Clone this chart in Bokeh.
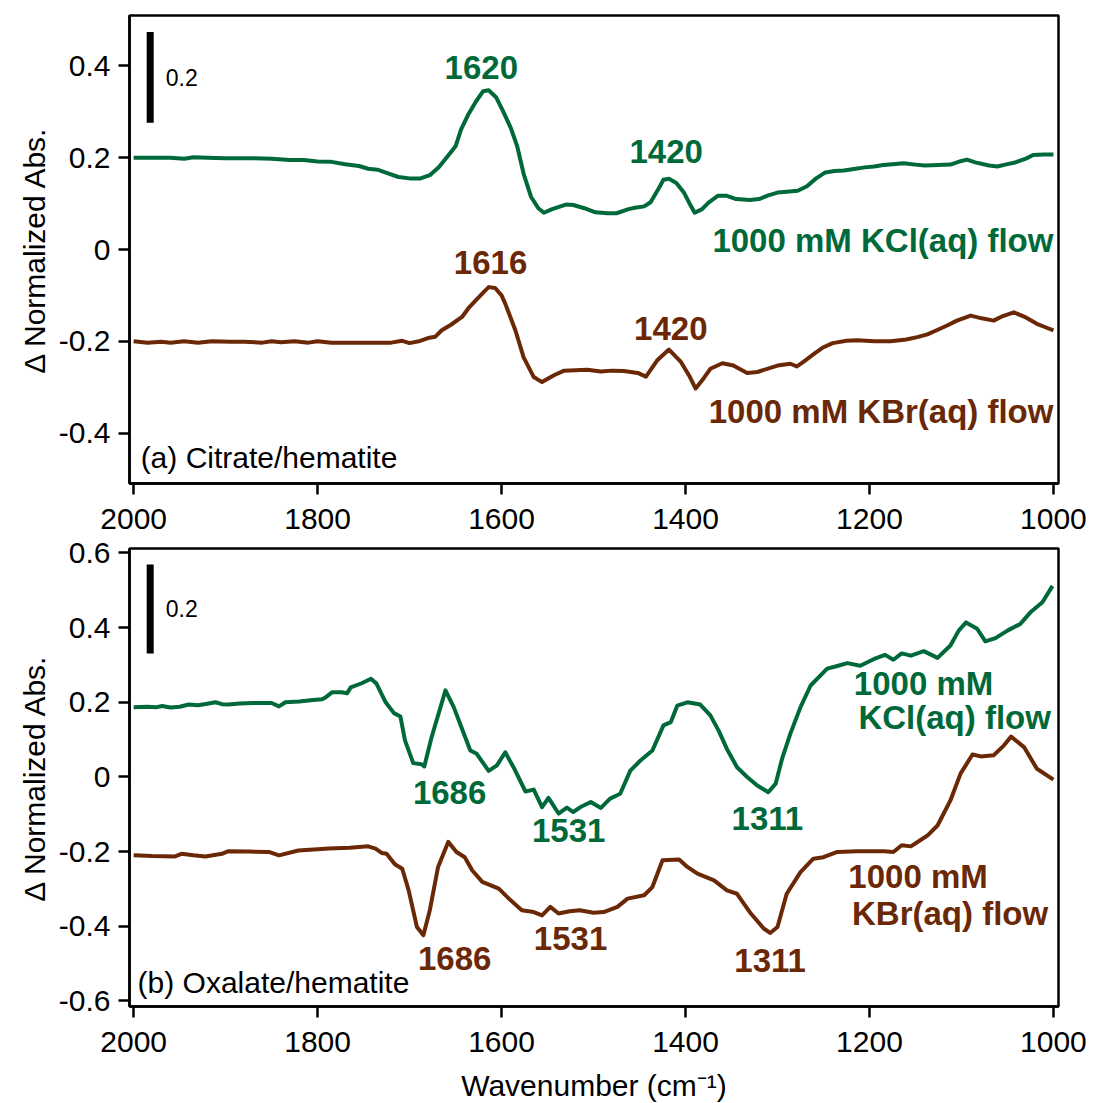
from bokeh.plotting import figure
from bokeh.models import Range1d, FixedTicker
from bokeh.layouts import column
from bokeh.core.properties import value
from bokeh.embed import file_html
from bokeh.resources import INLINE

GREEN = "#00693a"
BROWN = "#6a2806"
FONT = "Liberation Sans"

# ---------------- data ----------------
x_ticks = [2000, 1800, 1600, 1400, 1200, 1000]
x_tick_labels = ["2000", "1800", "1600", "1400", "1200", "1000"]
ya_ticks = [-0.4, -0.2, 0.0, 0.2, 0.4]
ya_tick_labels = ["-0.4", "-0.2", "0", "0.2", "0.4"]
yb_ticks = [-0.6, -0.4, -0.2, 0.0, 0.2, 0.4, 0.6]
yb_tick_labels = ["-0.6", "-0.4", "-0.2", "0", "0.2", "0.4", "0.6"]

# (a) citrate / hematite, KCl flow
a_kcl_x = [2000, 1960, 1945, 1935, 1920, 1900, 1870, 1850, 1830, 1815, 1800, 1785, 1770, 1755, 1745,
           1735, 1725, 1712, 1700, 1688, 1678, 1668, 1658, 1650, 1644, 1636, 1628, 1620, 1614, 1606,
           1598, 1590, 1583, 1576, 1568, 1560, 1554, 1545, 1530, 1522, 1510, 1498, 1485, 1475, 1462,
           1455, 1445, 1438, 1430, 1424, 1418, 1410, 1402, 1395, 1390, 1382, 1375, 1365, 1355, 1345,
           1330, 1320, 1310, 1300, 1290, 1278, 1268, 1258, 1248, 1238, 1228, 1215, 1205, 1195, 1185,
           1175, 1163, 1150, 1140, 1125, 1112, 1100, 1094, 1085, 1070, 1061, 1050, 1043, 1030, 1022,
           1010, 1000]
a_kcl_y = [0.200, 0.200, 0.198, 0.201, 0.200, 0.199, 0.199, 0.198, 0.195, 0.195, 0.192, 0.191, 0.186,
           0.182, 0.176, 0.174, 0.167, 0.158, 0.155, 0.155, 0.162, 0.180, 0.205, 0.225, 0.262, 0.295,
           0.322, 0.345, 0.347, 0.332, 0.300, 0.265, 0.225, 0.165, 0.115, 0.090, 0.080, 0.088, 0.098,
           0.097, 0.090, 0.081, 0.079, 0.079, 0.088, 0.091, 0.094, 0.103, 0.130, 0.152, 0.154, 0.145,
           0.125, 0.098, 0.080, 0.088, 0.102, 0.117, 0.117, 0.110, 0.108, 0.110, 0.118, 0.124, 0.126,
           0.128, 0.138, 0.155, 0.168, 0.171, 0.172, 0.176, 0.179, 0.181, 0.184, 0.186, 0.188, 0.185,
           0.183, 0.184, 0.185, 0.193, 0.196, 0.190, 0.183, 0.181, 0.186, 0.189, 0.198, 0.206, 0.207,
           0.207]

# (a) citrate / hematite, KBr flow
a_kbr_x = [2000, 1985, 1970, 1960, 1945, 1930, 1915, 1895, 1880, 1860, 1850, 1840, 1825, 1810, 1800,
           1785, 1760, 1740, 1720, 1708, 1700, 1690, 1680, 1672, 1665, 1655, 1643, 1636, 1628, 1620,
           1614, 1607, 1600, 1596, 1585, 1576, 1565, 1556, 1543, 1532, 1520, 1507, 1492, 1480, 1467,
           1452, 1443, 1431, 1418, 1405, 1396, 1389, 1380, 1373, 1360, 1348, 1333, 1322, 1300, 1286,
           1279, 1270, 1260, 1250, 1240, 1225, 1213, 1195, 1177, 1160, 1148, 1137, 1127, 1115, 1105,
           1090, 1078, 1065, 1055, 1043, 1030, 1018, 1008, 1000]
a_kbr_y = [-0.200, -0.203, -0.201, -0.203, -0.200, -0.203, -0.200, -0.201, -0.201, -0.203, -0.200,
           -0.202, -0.200, -0.203, -0.200, -0.203, -0.203, -0.203, -0.203, -0.199, -0.204, -0.200,
           -0.193, -0.190, -0.176, -0.164, -0.147, -0.128, -0.111, -0.094, -0.082, -0.084, -0.100,
           -0.118, -0.176, -0.235, -0.278, -0.289, -0.274, -0.264, -0.263, -0.262, -0.266, -0.264,
           -0.265, -0.269, -0.277, -0.242, -0.218, -0.245, -0.275, -0.303, -0.280, -0.260, -0.248,
           -0.253, -0.269, -0.267, -0.253, -0.249, -0.255, -0.242, -0.227, -0.213, -0.204, -0.199,
           -0.198, -0.200, -0.200, -0.196, -0.191, -0.185, -0.176, -0.165, -0.155, -0.144, -0.150,
           -0.155, -0.145, -0.137, -0.148, -0.162, -0.170, -0.176]

# (b) oxalate / hematite, KCl flow
b_kcl_x = [2000, 1985, 1975, 1969, 1960, 1950, 1940, 1930, 1920, 1911, 1904, 1897, 1885, 1870, 1850,
           1842, 1835, 1820, 1805, 1795, 1792, 1784, 1774, 1768, 1764, 1752, 1742, 1736, 1726, 1717,
           1710, 1705, 1696, 1687, 1684, 1676, 1661, 1652, 1645, 1634, 1627, 1614, 1605, 1596, 1587,
           1574, 1565, 1556, 1549, 1538, 1529, 1522, 1513, 1503, 1492, 1482, 1471, 1460, 1449, 1436,
           1424, 1416, 1409, 1398, 1384, 1373, 1364, 1355, 1344, 1333, 1322, 1310, 1302, 1295, 1286,
           1275, 1264, 1246, 1237, 1224, 1210, 1195, 1183, 1174, 1165, 1155, 1141, 1126, 1112, 1103,
           1095, 1083, 1074, 1063, 1050, 1036, 1025, 1012, 1001]
b_kcl_y = [0.187, 0.188, 0.187, 0.190, 0.186, 0.188, 0.194, 0.192, 0.196, 0.200, 0.195, 0.194, 0.197,
           0.198, 0.198, 0.189, 0.200, 0.202, 0.206, 0.208, 0.212, 0.227, 0.227, 0.224, 0.240, 0.251,
           0.263, 0.250, 0.200, 0.171, 0.162, 0.098, 0.037, 0.034, 0.028, 0.107, 0.232, 0.187, 0.142,
           0.071, 0.062, 0.016, 0.031, 0.066, 0.026, -0.039, -0.034, -0.081, -0.056, -0.098, -0.082,
           -0.094, -0.079, -0.067, -0.083, -0.058, -0.045, 0.017, 0.044, 0.071, 0.138, 0.147, 0.191,
           0.200, 0.194, 0.165, 0.124, 0.075, 0.026, 0.000, -0.023, -0.041, -0.018, 0.049, 0.116,
           0.187, 0.245, 0.290, 0.296, 0.305, 0.298, 0.316, 0.327, 0.314, 0.331, 0.325, 0.337, 0.319,
           0.352, 0.392, 0.414, 0.397, 0.363, 0.372, 0.392, 0.410, 0.441, 0.468, 0.512]

# (b) oxalate / hematite, KBr flow
b_kbr_x = [2000, 1980, 1955, 1948, 1935, 1922, 1904, 1897, 1875, 1853, 1842, 1821, 1800, 1788, 1765,
           1745, 1737, 1730, 1725, 1716, 1708, 1701, 1692, 1685, 1678, 1669, 1658, 1649, 1640, 1632,
           1621, 1603, 1592, 1578, 1565, 1556, 1547, 1538, 1526, 1515, 1500, 1489, 1474, 1463, 1445,
           1436, 1425, 1407, 1398, 1387, 1369, 1355, 1344, 1329, 1315, 1308, 1300, 1290, 1275, 1261,
           1250, 1235, 1213, 1184, 1174, 1165, 1155, 1137, 1126, 1112, 1101, 1088, 1079, 1065, 1054,
           1046, 1032, 1018, 1000]
b_kbr_y = [-0.210, -0.212, -0.213, -0.206, -0.210, -0.213, -0.206, -0.199, -0.200, -0.201, -0.210,
           -0.197, -0.194, -0.192, -0.190, -0.186, -0.192, -0.204, -0.206, -0.234, -0.246, -0.304,
           -0.402, -0.424, -0.357, -0.241, -0.174, -0.201, -0.215, -0.250, -0.281, -0.299, -0.326,
           -0.357, -0.362, -0.371, -0.348, -0.366, -0.360, -0.357, -0.364, -0.362, -0.348, -0.326,
           -0.317, -0.295, -0.223, -0.221, -0.241, -0.259, -0.277, -0.304, -0.313, -0.366, -0.406,
           -0.418, -0.402, -0.313, -0.255, -0.219, -0.215, -0.201, -0.199, -0.199, -0.201, -0.183,
           -0.186, -0.157, -0.130, -0.063, 0.009, 0.060, 0.055, 0.058, 0.084, 0.108, 0.080, 0.022,
           -0.007]

# annotations (text, wavenumber, value)
a_peak_text = ["1620", "1420", "1616", "1420"]
a_peak_x = [1622, 1421, 1612, 1416]
a_peak_y = [0.396, 0.213, -0.029, -0.172]
a_peak_series = ["KCl", "KCl", "KBr", "KBr"]
a_series_text = ["1000 mM KCl(aq) flow", "1000 mM KBr(aq) flow"]
a_series_y = [0.019, -0.352]

b_peak_text = ["1686", "1531", "1311", "1686", "1531", "1311"]
b_peak_x = [1656.5, 1527, 1311, 1651, 1525, 1308]
b_peak_y = [-0.041, -0.143, -0.111, -0.486, -0.432, -0.491]
b_peak_series = ["KCl", "KCl", "KCl", "KBr", "KBr", "KBr"]
b_series_text = ["1000 mM", "KCl(aq) flow", "1000 mM", "KBr(aq) flow"]
b_series_x = [1217, 1212, 1223, 1219]
b_series_y = [0.250, 0.159, -0.268, -0.365]
b_series_series = ["KCl", "KCl", "KBr", "KBr"]

scale_value = 0.2
a_scale = (1982, 0.276, 0.474)
b_scale = (1982, 0.331, 0.569)

COLORS = {"KCl": GREEN, "KBr": BROWN}


def style(p, ticks, labels):
    p.xaxis.ticker = FixedTicker(ticks=x_ticks)
    p.xaxis.major_label_overrides = dict(zip(x_ticks, x_tick_labels))
    p.yaxis.ticker = FixedTicker(ticks=ticks)
    p.yaxis.major_label_overrides = dict(zip(ticks, labels))
    for ax in (p.xaxis[0], p.yaxis[0]):
        ax.axis_line_width = 2.5
        ax.axis_line_color = "black"
        ax.major_tick_line_width = 2.5
        ax.major_tick_line_color = "black"
        ax.major_tick_out = 11
        ax.major_tick_in = 0
        ax.minor_tick_line_color = None
        ax.major_label_text_font = FONT
        ax.major_label_text_font_size = "30px"
        ax.major_label_text_color = "black"
        ax.axis_label_text_font = FONT
        ax.axis_label_text_font_size = "30px"
        ax.axis_label_text_font_style = "normal"
        ax.axis_label_text_color = "black"
    p.xaxis.major_label_standoff = 14
    p.yaxis.major_label_standoff = 8
    p.yaxis.axis_label = "\u0394 Normalized Abs."
    p.yaxis.axis_label_standoff = 5
    p.xgrid.grid_line_color = None
    p.ygrid.grid_line_color = None
    p.outline_line_color = "black"
    p.outline_line_width = 2.5
    p.outline_line_alpha = 1.0
    p.background_fill_color = "white"
    p.border_fill_color = "white"


BOLD = dict(text_font=value(FONT), text_font_style="bold", text_font_size="33px",
            text_baseline="middle")
REG = dict(text_font=value(FONT), text_font_size="30px", text_align="left",
           text_baseline="middle", text_color="black")
SMALL = dict(text_font=value(FONT), text_font_size="23px", text_align="left",
             text_baseline="middle", text_color="black")

# ---------------- panel (a) ----------------
pa = figure(frame_width=929, frame_height=468, x_range=Range1d(2004.5, 994.5),
            y_range=Range1d(-0.51, 0.51), min_border_left=129, min_border_right=35,
            min_border_top=15, min_border_bottom=53, toolbar_location=None,
            output_backend="svg")
style(pa, ya_ticks, ya_tick_labels)
pa.line(a_kcl_x, a_kcl_y, line_color=GREEN, line_width=4, line_join="round")
pa.line(a_kbr_x, a_kbr_y, line_color=BROWN, line_width=4, line_join="round")
pa.segment(x0=[a_scale[0]], y0=[a_scale[1]], x1=[a_scale[0]], y1=[a_scale[2]],
           line_width=7, line_color="black")
pa.text(x=[1965], y=[0.374], text=[str(scale_value)], **SMALL)
pa.text(x=a_peak_x, y=a_peak_y, text=a_peak_text, text_align="center",
        text_color=[COLORS[s] for s in a_peak_series], **BOLD)
pa.text(x=[1000, 1000], y=a_series_y, text=a_series_text, text_align="right",
        text_color=[GREEN, BROWN], **BOLD)
pa.text(x=[1992.4], y=[-0.453], text=["(a) Citrate/hematite"], **REG)

# ---------------- panel (b) ----------------
pb = figure(frame_width=929, frame_height=458, x_range=Range1d(2004.5, 994.5),
            y_range=Range1d(-0.615, 0.612), min_border_left=129, min_border_right=35,
            min_border_top=12, min_border_bottom=0, toolbar_location=None,
            output_backend="svg")
style(pb, yb_ticks, yb_tick_labels)
pb.xaxis.axis_label = "Wavenumber (cm\u207b\u00b9)"
pb.xaxis.axis_label_standoff = 14
pb.line(b_kcl_x, b_kcl_y, line_color=GREEN, line_width=4, line_join="round")
pb.line(b_kbr_x, b_kbr_y, line_color=BROWN, line_width=4, line_join="round")
pb.segment(x0=[b_scale[0]], y0=[b_scale[1]], x1=[b_scale[0]], y1=[b_scale[2]],
           line_width=7, line_color="black")
pb.text(x=[1965], y=[0.451], text=[str(scale_value)], **SMALL)
pb.text(x=b_peak_x, y=b_peak_y, text=b_peak_text, text_align="center",
        text_color=[COLORS[s] for s in b_peak_series], **BOLD)
pb.text(x=b_series_x, y=b_series_y, text=b_series_text, text_align="left",
        text_color=[COLORS[s] for s in b_series_series], **BOLD)
pb.text(x=[1995.7], y=[-0.55], text=["(b) Oxalate/hematite"], **REG)

layout = column(pa, pb, spacing=0)
open("out.html", "w").write(file_html(layout, INLINE))
